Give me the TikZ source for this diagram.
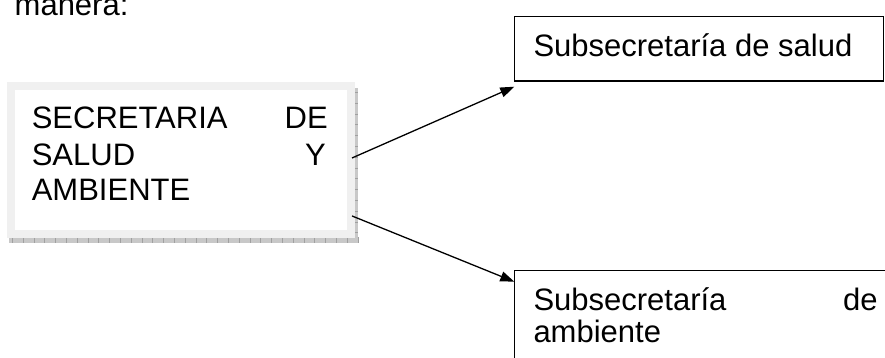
\documentclass[tikz,border=0pt]{standalone}
\usepackage{fontspec}
\setmainfont{Liberation Sans}
\usetikzlibrary{arrows.meta,calc}
\definecolor{boxgray}{HTML}{F0F0F0}
\definecolor{shadowgray}{HTML}{C8C8C8}
\definecolor{tickgray}{HTML}{A0A0A0}
\begin{document}
\begin{tikzpicture}[x=1pt,y=-1pt,
  txt/.style={inner sep=0pt,outer sep=0pt,anchor=base west,font=\fontsize{31}{36}\selectfont},
  plainbox/.style={draw=black,line width=1.4pt,fill=white,inner sep=0pt,outer sep=0pt},
  conn/.style={line width=1.3pt,-{Triangle[length=14pt,width=10pt]}}]
\useasboundingbox (0,0) rectangle (885,358);
% shadow of the left box
\fill[shadowgray] (354.3,88) rectangle (358.3,243.3);
\fill[shadowgray] (9.3,237.3) rectangle (358.3,243.3);
\draw[tickgray,line width=6pt,dash pattern=on 0.8pt off 10pt] (12,240.3) -- (358,240.3);
\draw[tickgray,line width=4pt,dash pattern=on 0.8pt off 10pt] (356.3,92) -- (356.3,240);
% left box
\node[draw=boxgray,line width=8pt,fill=white,inner sep=0pt,outer sep=0pt,
      minimum width=339.5pt,minimum height=147.1pt] (sec) at (180.75,160.05) {};
\node[txt,text width=296pt] (sec1) at (31.8,128.3) {SECRETARIA\hfill DE};
\node[txt,text width=294pt] (sec2) at (31.8,165) {SALUD\hfill Y};
\node[txt] (sec3) at (31.8,200) {AMBIENTE};
% intro text
\node[txt] (intro) at (14.7,16) {manera:};
% top right box
\node[plainbox,minimum width=369pt,minimum height=64.3pt] (sub1) at (698.8,48.85) {};
\node[txt] (sub1t) at (533.5,56.7) {Subsecretaría de salud};
% bottom right box (runs past the page edge)
\node[plainbox,minimum width=380pt,minimum height=100pt] (sub2) at (704.3,320.7) {};
\node[txt,text width=344pt] (sub2a) at (533.5,310) {Subsecretaría\hfill de};
\node[txt] (sub2b) at (533.5,342.3) {ambiente};
% connectors
\coordinate (s1) at ($(sec.north east)!0.486!(sec.south east)+(1.5,0)$);
\coordinate (s2) at ($(sec.north east)!0.88!(sec.south east)+(1.5,0)$);
\coordinate (e1) at ($(sub1.south west)+(0,5.7)$);
\coordinate (e2) at ($(sub2.north west)+(0,11)$);
\draw[conn] (s1) -- (e1);
\draw[conn] (s2) -- (e2);
\end{tikzpicture}
\end{document}
